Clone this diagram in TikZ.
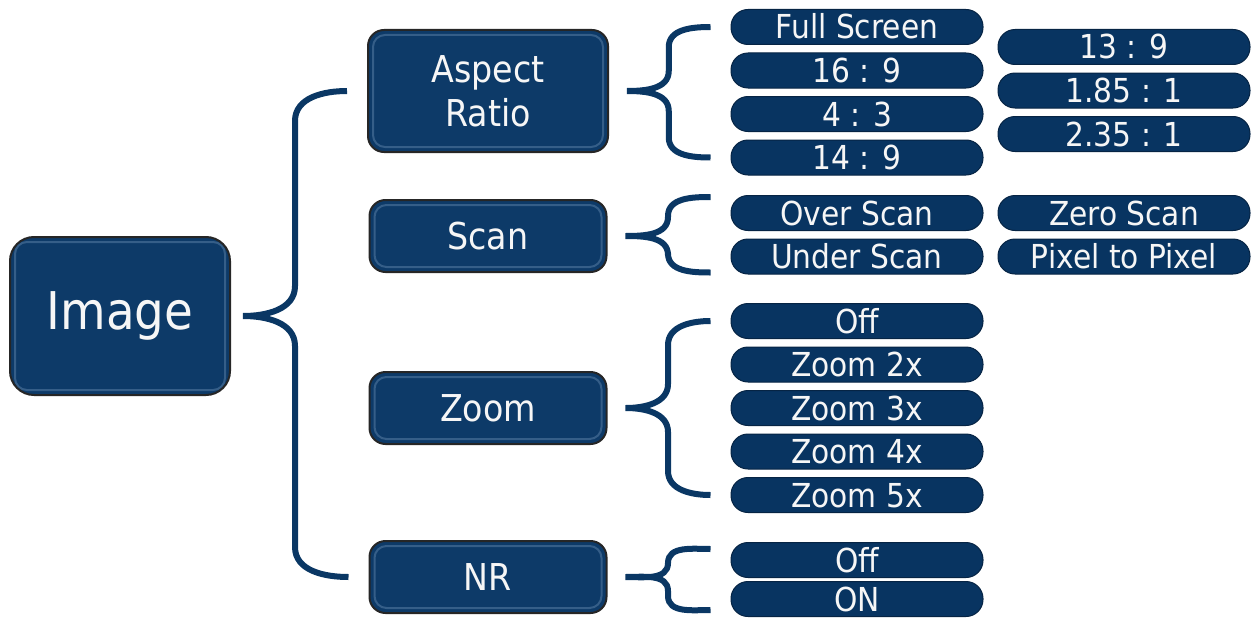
\documentclass[tikz,border=0pt]{standalone}
\usepackage{fontspec}
\setmainfont{DejaVu Sans}[FakeStretch=0.9]
\usetikzlibrary{positioning, calc}
\definecolor{boxblue}{RGB}{13, 58, 104}
\definecolor{pillblue}{RGB}{8, 52, 97}
\definecolor{braceblue}{RGB}{10, 55, 100}
\definecolor{rimblue}{RGB}{80, 118, 158}
\definecolor{textwhite}{RGB}{246, 246, 246}

\begin{document}
\begin{tikzpicture}[
    x=1pt, y=1pt,
    node distance=7.5pt,
    menubox/.style={draw=black!85, line width=2pt, fill=boxblue, rounded corners=16pt, align=center, text=textwhite,
        font=\fontsize{37}{44}\selectfont, minimum width=237pt, minimum height=72pt, inner sep=0pt,
        path picture={\draw[rimblue, line width=2pt, rounded corners=12pt, opacity=0.6]
            ([shift={(5pt,-5pt)}]path picture bounding box.north west) rectangle
            ([shift={(-5pt,5pt)}]path picture bounding box.south east);}},
    mainbox/.style={menubox, rounded corners=24pt, minimum width=220pt, minimum height=158pt, font=\fontsize{52}{58}\selectfont},
    opt/.style={draw=pillblue!70!black, line width=1pt, fill=pillblue, rounded corners=17pt, minimum width=252pt, minimum height=35pt,
        inner sep=0pt, text height=24pt, text depth=0pt, text=textwhite, font=\fontsize{33}{33}\selectfont},
    brace/.style={draw=braceblue, line width=6pt, line cap=butt}
]
\useasboundingbox (0,0) rectangle (1252,-618);

% Root
\node[mainbox] (image) at (120,-316) {Image};

% Menu entries
\node[menubox, minimum width=240pt, minimum height=122pt] (aspect) at (488,-91) {Aspect\\Ratio};
\node[menubox] (scan) at (488,-236) {Scan};
\node[menubox] (zoom) at (488,-408) {Zoom};
\node[menubox] (nr) at (488,-577) {NR};

% Aspect ratio options
\node[opt] (fullscreen) at (857,-27) {Full Screen};
\node[opt, below=of fullscreen] (r169) {16 : 9};
\node[opt, below=of r169] (r43) {4 : 3};
\node[opt, below=of r43] (r149) {14 : 9};
\node[opt] (r139) at (1124,-47) {13 : 9};
\node[opt, below=of r139] (r185) {1.85 : 1};
\node[opt, below=of r185] (r235) {2.35 : 1};

% Scan options
\node[opt] (overscan) at (857,-213) {Over Scan};
\node[opt, below=of overscan] (underscan) {Under Scan};
\node[opt] (zeroscan) at (1124,-213) {Zero Scan};
\node[opt, below=of zeroscan] (pixel) {Pixel to Pixel};

% Zoom options
\node[opt] (zoomoff) at (857,-321) {Off};
\node[opt, below=of zoomoff] (zoomtwo) {Zoom 2x};
\node[opt, below=of zoomtwo] (zoomthree) {Zoom 3x};
\node[opt, below=of zoomthree] (zoomfour) {Zoom 4x};
\node[opt, below=of zoomfour] (zoomfive) {Zoom 5x};

% NR options
\node[opt] (nroff) at (857,-560) {Off};
\node[opt, below=3pt of nroff] (nron) {ON};

% Braces
\foreach \p/\a/\b/\rad/\gap/\ext in {image/aspect/nr/30/12/0, aspect/fullscreen/r149/20/18/0, scan/overscan/underscan/19/18/16, zoom/zoomoff/zoomfive/24/18/0, nr/nroff/nron/14/18/11} {
    \coordinate (tip) at ($(\p.east)+(\gap,0)$);
    \coordinate (top) at ($(\a.west)+(-20,\ext)$);
    \coordinate (bot) at ($(\b.west)+(-20,-\ext)$);
    \coordinate (mid) at ($(tip)!.5!(top)$);
    \draw[brace] (top) to[out=180,in=90] ($(top -| mid)+(0,-\rad)$) -- ($(tip -| mid)+(0,\rad)$)
        to[out=-90,in=0] (tip) to[out=0,in=90] ($(tip -| mid)+(0,-\rad)$) -- ($(bot -| mid)+(0,\rad)$)
        to[out=-90,in=180] (bot);
}

\end{tikzpicture}
\end{document}
